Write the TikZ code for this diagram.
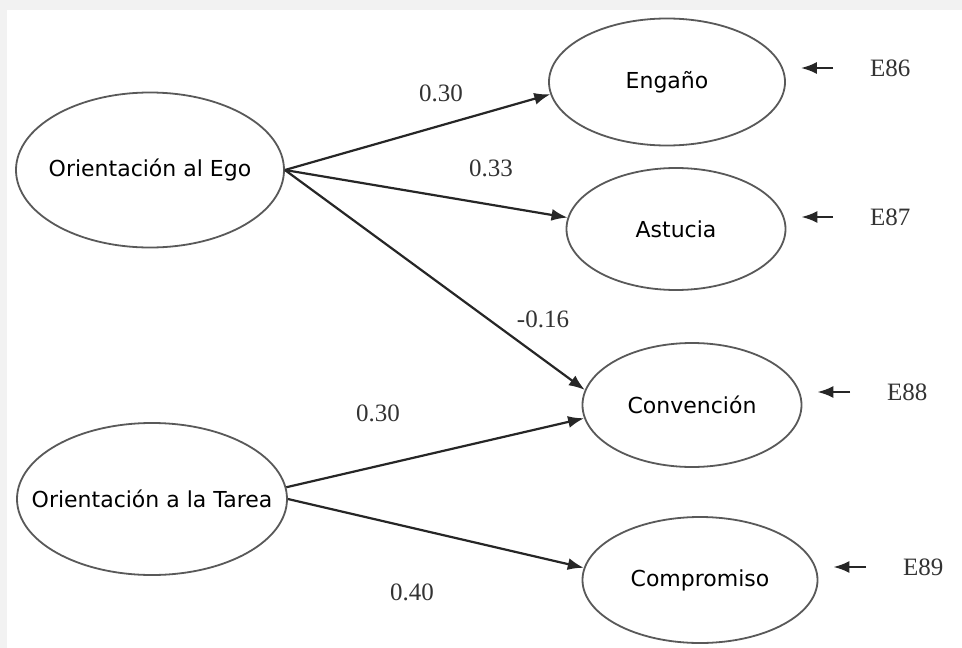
\documentclass[tikz,border=0pt]{standalone}
\usepackage{fontspec}
\setmainfont{Liberation Serif}
\setsansfont{DejaVu Sans}
\usetikzlibrary{arrows.meta,shapes.geometric}

\begin{document}
\begin{tikzpicture}[x=1pt,y=-1pt,>={Latex[length=16pt,width=12pt]},
    latent/.style={ellipse,draw=black!65,line width=1.8pt,inner ysep=0pt,inner xsep=-40pt,
      font=\sffamily\fontsize{22}{26}\selectfont},
    path/.style={->,draw=black!85,line width=2.2pt},
    coef/.style={font=\fontsize{25}{30}\selectfont,text=black!80,inner sep=0pt},
    errarr/.style={->,draw=black!85,line width=2.2pt,shorten <=37pt,shorten >=15pt}]
  \useasboundingbox (0,0) rectangle (962,648);
  % frame
  \fill[black!5] (0,0) rectangle (962,648);
  \fill[white] (7,10) rectangle (962,648);

  % factors
  \node[latent,minimum width=268pt,minimum height=155pt] (ego) at (150,170) {Orientación al Ego};
  \node[latent,minimum width=270pt,minimum height=152pt] (tarea) at (152,499) {Orientación a la Tarea};

  % outcomes
  \node[latent,minimum width=236pt,minimum height=127pt] (engano) at (667,82) {Engaño};
  \node[latent,minimum width=219pt,minimum height=122pt] (astucia) at (676,229) {Astucia};
  \node[latent,minimum width=219pt,minimum height=124pt] (convencion) at (692,405) {Convención};
  \node[latent,minimum width=235pt,minimum height=126pt] (compromiso) at (700,580) {Compromiso};

  % error terms
  \node[coef,anchor=west] (e86) at (870,68) {E86};
  \node[coef,anchor=west] (e87) at (870,217) {E87};
  \node[coef,anchor=west] (e88) at (887,392) {E88};
  \node[coef,anchor=west] (e89) at (903,567) {E89};

  % coefficients
  \node[coef] (c1) at (441,93) {0.30};
  \node[coef] (c2) at (491,168) {0.33};
  \node[coef] (c3) at (543,319) {-0.16};
  \node[coef] (c4) at (378,413) {0.30};
  \node[coef] (c5) at (412,592) {0.40};

  % paths
  \draw[path] (ego.east) -- (engano.186);
  \draw[path] (ego.east) -- (astucia.174);
  \draw[path] (ego.east) -- (convencion.172);
  \draw[path] (tarea.5) -- (convencion.187);
  \draw[path] (tarea.0) -- (compromiso.174);

  \draw[errarr] (e86.west) -- (e86.west -| engano.east);
  \draw[errarr] (e87.west) -- (e87.west -| astucia.east);
  \draw[errarr] (e88.west) -- (e88.west -| convencion.east);
  \draw[errarr] (e89.west) -- (e89.west -| compromiso.east);
\end{tikzpicture}
\end{document}
